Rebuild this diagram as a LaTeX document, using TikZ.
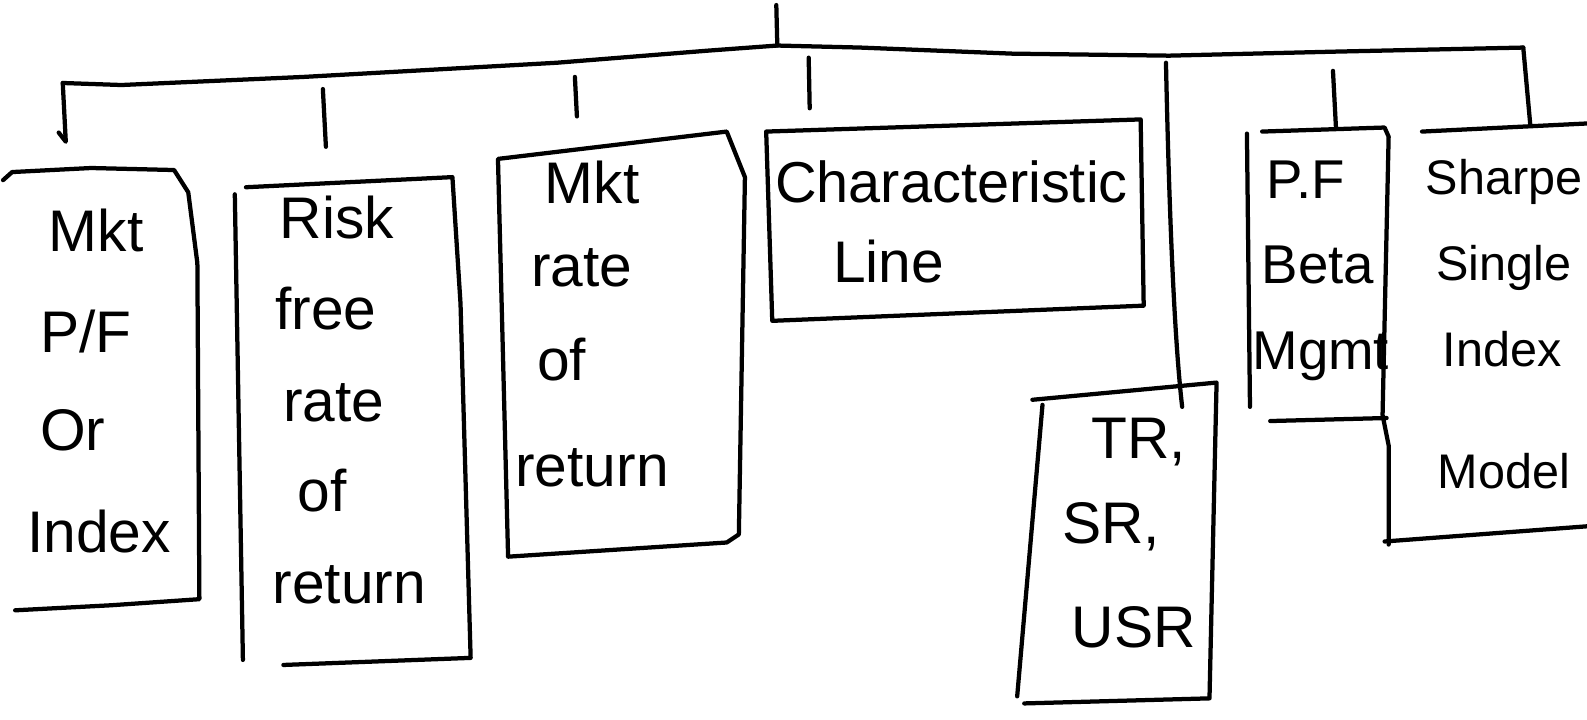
\documentclass[tikz,border=0pt]{standalone}
\usepackage{fontspec}
\setmainfont{Liberation Sans}
\begin{document}
\begin{tikzpicture}[x=1pt,y=-1pt,
  stroke/.style={line width=4.2pt, line cap=round, line join=round},
  lbl/.style={font=\fontsize{58}{58}\selectfont, inner sep=0pt},
  lblsm/.style={font=\fontsize{48}{48}\selectfont, inner sep=0pt}]
\useasboundingbox[fill=white] (0,0) rectangle (1568,711);

% ---- tree skeleton ----
\coordinate (root) at (767,5);
\coordinate (hub) at (768,45);
\coordinate (bL) at (62,82);
\coordinate (bR) at (1505,47);
\draw[stroke] (root) -- (hub);
\draw[stroke] (bL) -- (120,84) -- (300,76) -- (550,62) -- (700,50) -- (hub)
  -- (850,47) -- (1000,53) -- (1155,55) -- (1320,51) -- (bR);

\coordinate (k1) at (65,140);
\draw[stroke] (bL) -- (k1) -- (58,131);
\coordinate (k2a) at (319,88);  \coordinate (k2b) at (322,145);
\draw[stroke] (k2a) -- (k2b);
\coordinate (k3a) at (568,76);  \coordinate (k3b) at (570,115);
\draw[stroke] (k3a) -- (k3b);
\coordinate (k4a) at (799,57);  \coordinate (k4b) at (800,107);
\draw[stroke] (k4a) -- (k4b);
\coordinate (k5a) at (1152,62); \coordinate (k5b) at (1168,402);
\draw[stroke] (k5a) .. controls (1156,250) and (1162,350) .. (k5b);
\coordinate (k6a) at (1317,70); \coordinate (k6b) at (1320,127);
\draw[stroke] (k6a) -- (k6b);
\coordinate (k7) at (1512,124);
\draw[stroke] (bR) -- (k7);

% ---- box 1 ----
\draw[stroke] (3,178) -- (12,170) -- (90,166) -- (172,168) -- (186,190) -- (195,260)
  -- (197,592) -- (110,598) -- (15,603);
\node[lbl] (t1a) at (95,228) {Mkt};
\node[lbl] (t1b) at (85,328) {P/F};
\node[lbl] (t1c) at (72,425) {Or};
\node[lbl] (t1d) at (98,525) {Index};

% ---- box 2 ----
\draw[stroke] (232,192) -- (240,652);
\draw[stroke] (243,185) -- (447,175) -- (455,300) -- (465,650) -- (280,657);
\node[lbl] (t2a) at (333,215) {Risk};
\node[lbl] (t2b) at (322,305) {free};
\node[lbl] (t2c) at (330,398) {rate};
\node[lbl] (t2d) at (318,485) {of};
\node[lbl] (t2e) at (345,578) {return};

% ---- box 3 ----
\draw[stroke] (492,157) -- (718,130) -- (736,175) -- (730,528) -- (718,536) -- (502,550) -- cycle;
\node[lbl] (t3a) at (585,180) {Mkt};
\node[lbl] (t3b) at (575,265) {rate};
\node[lbl] (t3c) at (555,355) {of};
\node[lbl] (t3d) at (585,462) {return};

% ---- box 4 ----
\draw[stroke] (757,130) -- (1127,118) -- (1130,302) -- (763,317) -- cycle;
\node[lbl, font=\fontsize{57}{57}\selectfont] (t4a) at (940,180) {Characteristic};
\node[lbl] (t4b) at (878,258) {Line};

% ---- box 5 ----
\draw[stroke] (1020,395) -- (1202,378) -- (1195,690) -- (1012,695);
\draw[stroke] (1030,400) -- (1005,688);
\node[lbl] (t5a) at (1125,437) {TR,};
\node[lbl] (t5b) at (1098,520) {SR,};
\node[lbl] (t5c) at (1120,620) {USR};

% ---- box 6 and 7 ----
\draw[stroke] (1232,132) -- (1235,402);
\draw[stroke] (1247,130) -- (1368,126) -- (1372,135) -- (1366,410) -- (1372,440) -- (1372,538);
\draw[stroke] (1255,416) -- (1370,413);
\node[lbl, font=\fontsize{54}{54}\selectfont] (t6a) at (1290,178) {P.F};
\node[lbl, font=\fontsize{54}{54}\selectfont] (t6b) at (1302,262) {Beta};
\node[lbl, font=\fontsize{54}{54}\selectfont] (t6c) at (1305,352) {Mgmt};

\draw[stroke] (1405,130) -- (1568,122);
\draw[stroke] (1368,535) -- (1568,520);
\node[lblsm] (t7a) at (1486,180) {Sharpe};
\node[lblsm] (t7b) at (1486,265) {Single};
\node[lblsm] (t7c) at (1484,345) {Index};
\node[lblsm] (t7d) at (1486,465) {Model};
\end{tikzpicture}
\end{document}
